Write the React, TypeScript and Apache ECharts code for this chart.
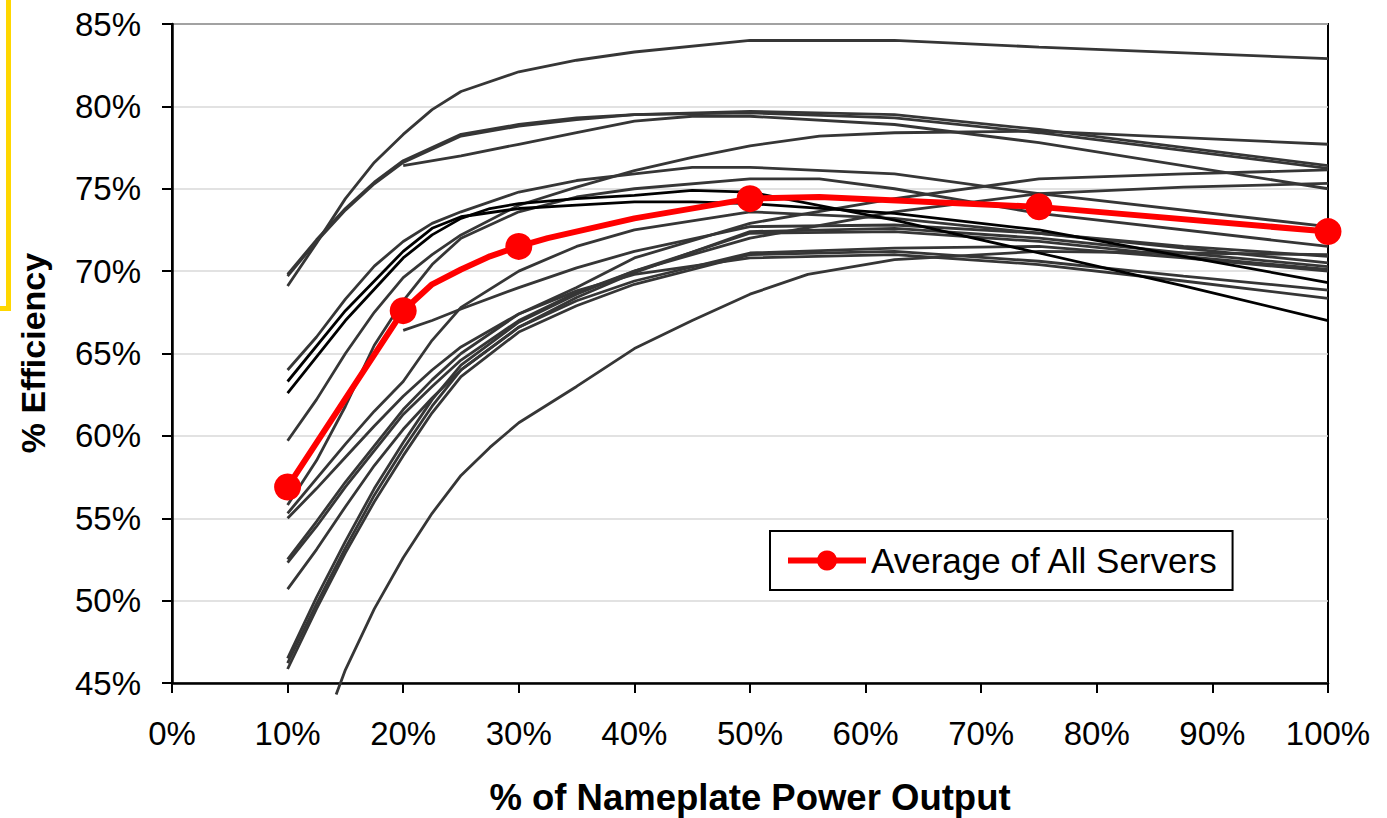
import React, { useEffect, useRef } from "react";
import * as echarts from "echarts";

// ---- data: [% of nameplate load, % efficiency] ----
const SERVER_01: [number, number][] = [[10, 69.1], [12.5, 71.7], [15, 74.4], [17.5, 76.6], [20, 78.3], [22.5, 79.8], [25, 80.9], [30, 82.1], [35, 82.8], [40, 83.3], [50, 84.0], [62.5, 84.0], [75, 83.6], [100, 82.9]];
const SERVER_02: [number, number][] = [[10, 69.8], [12.5, 71.9], [15, 73.8], [17.5, 75.4], [20, 76.7], [25, 78.3], [30, 78.9], [35, 79.3], [40, 79.5], [50, 79.7], [62.5, 79.5], [75, 78.6], [100, 76.4]];
const SERVER_03: [number, number][] = [[10, 69.7], [12.5, 71.8], [15, 73.7], [17.5, 75.3], [20, 76.6], [25, 78.2], [30, 78.8], [35, 79.2], [40, 79.5], [50, 79.6], [62.5, 79.3], [75, 78.4], [100, 76.24]];
const SERVER_04: [number, number][] = [[20, 76.4], [25, 77.0], [30, 77.7], [35, 78.4], [40, 79.1], [45, 79.4], [50, 79.4], [62.5, 78.9], [75, 77.8], [100, 75.0]];
const SERVER_05: [number, number][] = [[10, 59.7], [12.5, 62.2], [15, 65.0], [17.5, 67.5], [20, 69.6], [22.5, 71.0], [25, 72.2], [30, 74.0], [35, 75.1], [40, 76.1], [45, 76.9], [50, 77.6], [56, 78.2], [62.5, 78.4], [75, 78.5], [100, 77.7]];
const SERVER_06: [number, number][] = [[10, 64.0], [12.5, 66.0], [15, 68.3], [17.5, 70.3], [20, 71.8], [22.5, 72.9], [25, 73.6], [30, 74.8], [35, 75.5], [40, 75.9], [45, 76.3], [50, 76.3], [62.5, 75.9], [75, 74.7], [100, 72.7]];
const SERVER_07: [number, number][] = [[10, 62.6], [15, 67.0], [20, 70.8], [22.5, 72.2], [25, 73.2], [27.5, 73.8], [30, 74.1], [35, 74.4], [40, 74.6], [45, 74.9], [50, 74.8], [62.5, 73.1], [75, 71.1], [87.5, 69.1], [100, 67.0]];
const SERVER_08: [number, number][] = [[10, 63.3], [15, 67.6], [20, 71.2], [22.5, 72.6], [25, 73.3], [30, 73.8], [35, 74.0], [40, 74.2], [45, 74.2], [50, 74.1], [62.5, 73.5], [75, 72.5], [87.5, 70.9], [100, 69.3]];
const SERVER_09: [number, number][] = [[10, 55.8], [12.5, 58.5], [15, 61.8], [17.5, 65.5], [20, 68.2], [22.5, 70.4], [25, 72.0], [30, 73.6], [35, 74.5], [40, 75.0], [50, 75.6], [56, 75.6], [62.5, 75.0], [75, 73.5], [100, 71.5]];
const SERVER_10: [number, number][] = [[20, 66.4], [22.5, 67.0], [25, 67.7], [30, 69.0], [35, 70.2], [40, 71.2], [50, 72.7], [62.5, 72.8], [75, 72.3], [87.5, 71.4], [100, 70.5]];
const SERVER_11: [number, number][] = [[10, 55.3], [12.5, 57.4], [15, 59.5], [17.5, 61.5], [20, 63.3], [22.5, 65.8], [25, 67.8], [30, 70.0], [35, 71.5], [40, 72.5], [50, 73.6], [62.5, 73.2], [75, 72.3], [87.5, 71.5], [100, 70.9]];
const SERVER_12: [number, number][] = [[10, 52.5], [12.5, 54.8], [15, 57.2], [17.5, 59.4], [20, 61.6], [22.5, 63.4], [25, 65.0], [30, 67.4], [35, 69.0], [40, 70.8], [50, 72.9], [62.5, 74.4], [75, 75.6], [87.5, 75.9], [100, 76.14]];
const SERVER_13: [number, number][] = [[10, 52.3], [12.5, 54.5], [15, 56.9], [17.5, 59.1], [20, 61.3], [22.5, 63.0], [25, 64.6], [30, 67.0], [35, 68.7], [40, 70.0], [50, 72.0], [62.5, 73.6], [75, 74.7], [87.5, 75.1], [100, 75.33]];
const SERVER_14: [number, number][] = [[10, 50.7], [12.5, 53.1], [15, 55.7], [17.5, 58.2], [20, 60.4], [22.5, 62.3], [25, 64.0], [30, 66.6], [35, 68.4], [40, 69.9], [50, 72.4], [62.5, 72.6], [75, 72.0], [87.5, 71.1], [100, 70.27]];
const SERVER_15: [number, number][] = [[10, 46.5], [12.5, 50.2], [15, 53.6], [17.5, 56.8], [20, 59.6], [22.5, 62.2], [25, 64.3], [30, 66.9], [35, 68.6], [40, 70.0], [50, 72.3], [62.5, 72.4], [75, 71.8], [87.5, 70.9], [100, 70.1]];
const SERVER_16: [number, number][] = [[10, 46.2], [12.5, 49.8], [15, 53.2], [17.5, 56.4], [20, 59.2], [22.5, 61.8], [25, 64.0], [30, 66.6], [35, 68.2], [40, 69.4], [50, 71.1], [62.5, 71.4], [75, 71.5], [87.5, 70.8], [100, 70.0]];
const SERVER_17: [number, number][] = [[10, 45.85], [12.5, 49.5], [15, 52.9], [17.5, 56.0], [20, 58.8], [22.5, 61.4], [25, 63.6], [30, 66.3], [35, 67.9], [40, 69.2], [50, 71.0], [62.5, 71.2], [75, 70.6], [87.5, 69.7], [100, 68.85]];
const SERVER_18: [number, number][] = [[10, 55.0], [12.5, 56.8], [15, 58.7], [17.5, 60.6], [20, 62.4], [22.5, 64.0], [25, 65.4], [30, 67.4], [35, 68.8], [40, 69.8], [50, 70.8], [62.5, 71.0], [75, 70.4], [87.5, 69.4], [100, 68.35]];
const SERVER_19: [number, number][] = [[14.2, 44.3], [15, 45.8], [17.5, 49.5], [20, 52.6], [22.5, 55.3], [25, 57.6], [27.5, 59.3], [30, 60.8], [35, 63.0], [40, 65.3], [45, 67.0], [50, 68.6], [55, 69.8], [62.5, 70.7], [75, 71.2], [87.5, 71.1], [100, 71.0]];

const BLACK_SERVERS = [SERVER_07, SERVER_08];
const ALL_SERVERS = [SERVER_01, SERVER_02, SERVER_03, SERVER_04, SERVER_05, SERVER_06, SERVER_07, SERVER_08, SERVER_09, SERVER_10, SERVER_11, SERVER_12, SERVER_13, SERVER_14, SERVER_15, SERVER_16, SERVER_17, SERVER_18, SERVER_19];

const AVG_NAME = "Average of All Servers";
const AVG_PATH: [number, number][] = [[10, 56.9], [20, 67.6], [22.5, 69.2], [25, 70.1], [27.5, 70.9], [30, 71.5], [32.5, 72.0], [40, 73.2], [50, 74.4], [56, 74.5], [75, 73.9], [100, 72.4]];
const AVG_MARKER_LOADS = [10, 20, 30, 50, 75, 100];

const X_TITLE = "% of Nameplate Power Output";
const Y_TITLE = "% Efficiency";

const FONT = "'Liberation Sans', Arial, Helvetica, sans-serif";

export default function App() {
  const ref = useRef<HTMLDivElement>(null);
  useEffect(() => {
    const chart = echarts.init(ref.current!, null, { renderer: "svg" });
    const grayLines = ALL_SERVERS.map((d, i) => ({
      type: "line",
      name: "server" + (i + 1),
      data: d,
      symbol: "none",
      clip: false,
      silent: true,
      z: BLACK_SERVERS.includes(d) ? 3 : 2,
      lineStyle: { color: BLACK_SERVERS.includes(d) ? "#000000" : "#363636", width: 2.8 },
    }));
    const option: any = {
      animation: false,
      backgroundColor: "#ffffff",
      textStyle: { fontFamily: FONT },
      grid: { left: 172, right: 59, top: 24, bottom: 135, show: true, borderColor: "#000", borderWidth: 2, backgroundColor: "transparent" },
      xAxis: {
        type: "value",
        min: 0,
        max: 100,
        interval: 10,
        axisLine: { lineStyle: { color: "#000", width: 2.5 } },
        axisTick: { show: true, length: 10, lineStyle: { color: "#000", width: 2 } },
        axisLabel: { formatter: "{value}%", color: "#000", fontSize: 33, margin: 34, fontFamily: FONT },
        splitLine: { show: false },
      },
      yAxis: {
        type: "value",
        min: 45,
        max: 85,
        interval: 5,
        axisLine: { show: true, lineStyle: { color: "#000", width: 2.5 } },
        axisTick: { show: true, length: 10, lineStyle: { color: "#000", width: 2 } },
        axisLabel: { formatter: "{value}%", color: "#000", fontSize: 33, margin: 31, fontFamily: FONT },
        splitLine: { show: true, lineStyle: { color: "#d8d8d8", width: 1.5 } },
      },
      legend: {
        data: [AVG_NAME],
        left: 770,
        top: 531,
        orient: "horizontal",
        padding: [12, 14, 12, 15],
        borderColor: "#000",
        borderWidth: 2,
        backgroundColor: "#fff",
        itemWidth: 78,
        itemHeight: 25,
        itemGap: 10,
        lineStyle: { width: 6, color: "#ff0000" },
        textStyle: { fontSize: 35, color: "#000", fontFamily: FONT },
        z: 20,
      },
      series: [
        ...grayLines,
        {
          type: "line",
          name: AVG_NAME,
          data: AVG_PATH.map(([x, y]) =>
            AVG_MARKER_LOADS.includes(x) ? { value: [x, y] } : { value: [x, y], symbol: "none" }
          ),
          symbol: "circle",
          symbolSize: 27,
          showSymbol: true,
          z: 10,
          lineStyle: { color: "#ff0000", width: 6 },
          itemStyle: { color: "#ff0000" },
        },
      ],
      graphic: [
        { type: "rect", shape: { x: 6, y: 0, width: 5, height: 311 }, style: { fill: "#ffd700" }, silent: true },
        { type: "rect", shape: { x: 0, y: 306, width: 11, height: 5 }, style: { fill: "#ffd700" }, silent: true },
        {
          type: "text",
          x: 33,
          y: 353,
          rotation: Math.PI / 2,
          style: { text: Y_TITLE, fontSize: 34, fontWeight: "bold", fill: "#000", textAlign: "center", textVerticalAlign: "middle", fontFamily: FONT },
        },
        {
          type: "text",
          x: 750,
          y: 797,
          style: { text: X_TITLE, fontSize: 36.5, fontWeight: "bold", fill: "#000", textAlign: "center", textVerticalAlign: "middle", fontFamily: FONT },
        },
      ],
    };
    chart.setOption(option);
    return () => chart.dispose();
  }, []);
  return (
    <div
      ref={ref}
      style={{ position: "fixed", left: 0, top: 0, width: 1387, height: 818, background: "#fff" }}
    />
  );
}
